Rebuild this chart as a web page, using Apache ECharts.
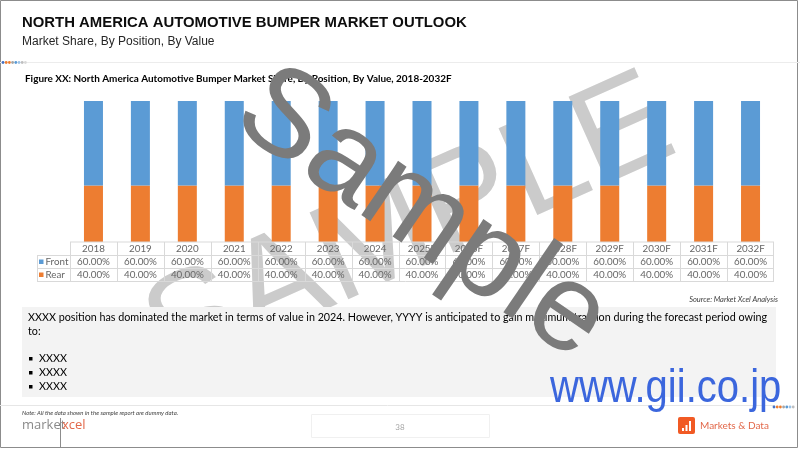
<!DOCTYPE html>
<html>
<head>
<meta charset="utf-8">
<script src="https://cdn.jsdelivr.net/npm/echarts@6/dist/echarts.min.js"></script>
<style>
  html, body { margin: 0; padding: 0; background: #fff; }
  #main { width: 800px; height: 450px; }
</style>
</head>
<body>
<div id="main"></div>
<script>
var years = ['2018', '2019', '2020', '2021', '2022', '2023', '2024', '2025E', '2026F', '2027F', '2028F', '2029F', '2030F', '2031F', '2032F'];
var front = [60, 60, 60, 60, 60, 60, 60, 60, 60, 60, 60, 60, 60, 60, 60];
var rear = [40, 40, 40, 40, 40, 40, 40, 40, 40, 40, 40, 40, 40, 40, 40];
var bullets = ['XXXX', 'XXXX', 'XXXX'];

var BLUE = '#5b9bd5';
var ORANGE = '#ed7d31';
var GRID_L = 70, GRID_R = 774, GRID_T = 101, GRID_B = 242;

var myChart = echarts.init(document.getElementById('main'));

option = {
    animation: false,
    grid: {
        left: GRID_L,
        right: 800 - GRID_R,
        top: GRID_T,
        bottom: 450 - GRID_B
    },
    xAxis: {
        type: 'category',
        data: years,
        show: false
    },
    yAxis: {
        type: 'value',
        min: 0,
        max: 100,
        show: false
    },
    series: [
        {
            name: 'Rear',
            type: 'bar',
            stack: 'total',
            barWidth: 19,
            itemStyle: { color: ORANGE },
            data: rear
        },
        {
            name: 'Front',
            type: 'bar',
            stack: 'total',
            barWidth: 19,
            itemStyle: { color: BLUE },
            data: front
        }
    ]
};
myChart.setOption(option);

// slide decorations + data table, placed from the category axis
var g = [];
function txt(x, y, s, st, extra) {
    var el = {
        type: 'text', x: x, y: y,
        style: Object.assign({ text: s, fill: '#000', font: '12px "Liberation Sans"', textVerticalAlign: 'middle' }, st)
    };
    return Object.assign(el, extra || {});
}
function line(x1, y1, x2, y2, color, z) {
    return { type: 'line', z: z || 3, shape: { x1: x1, y1: y1, x2: x2, y2: y2 }, style: { stroke: color, lineWidth: 1 } };
}

// light watermark behind bars
g.push(txt(410, 230, 'SAMPLE', { font: '138px "Liberation Sans"', fill: '#cbcbcb', textAlign: 'center' }, { rotation: 0.42, z: 0 }));

// frame
g.push({ type: 'rect', z: 1, shape: { x: 0.5, y: 0.5, width: 797, height: 447 }, style: { fill: 'none', stroke: '#8c8c8c', lineWidth: 1 } });

// header
g.push(txt(22, 23, 'NORTH AMERICA AUTOMOTIVE BUMPER MARKET OUTLOOK', { font: 'bold 14.9px "Liberation Sans"', fill: '#0d0d0d' }, { z: 3 }));
g.push(txt(22, 42, 'Market Share, By Position, By Value', { font: '12px "Liberation Sans"', fill: '#262626' }, { z: 3 }));
g.push(line(0, 62.5, 800, 62.5, '#ececec'));
var dotColors = ['#4472c4', '#ed7d31', '#ed7d31', '#a5a5a5', '#5b9bd5', '#9dc3e6', '#bfbfbf', '#d9d9d9'];
dotColors.forEach(function (c, i) {
    g.push({ type: 'circle', z: 3, shape: { cx: 3 + i * 3.2, cy: 62.5, r: 1.4 }, style: { fill: c } });
});
g.push(txt(25, 79, 'Figure XX: North America Automotive Bumper Market Share, By Position, By Value, 2018-2032F', { font: 'bold 9.95px Lato', fill: '#000' }, { z: 3 }));

// data table
var band = (GRID_R - GRID_L) / years.length;
var rowY = [242, 255.5, 268.5, 281.5];
var tcol = '#d9d9d9';
g.push(line(GRID_L, rowY[0], GRID_R, rowY[0], tcol));
g.push(line(37, rowY[1], GRID_R, rowY[1], tcol));
g.push(line(37, rowY[2], GRID_R, rowY[2], tcol));
g.push(line(37, rowY[3], GRID_R, rowY[3], tcol));
g.push(line(37.5, rowY[1], 37.5, rowY[3], tcol));
var tfont = '9.8px Lato';
years.forEach(function (y, i) {
    var cx = myChart.convertToPixel({ xAxisIndex: 0 }, y);
    var left = Math.round(cx - band / 2) + 0.5;
    g.push(line(left, rowY[0], left, rowY[3], tcol));
    g.push(txt(cx, (rowY[0] + rowY[1]) / 2, y, { font: tfont, fill: '#666', textAlign: 'center' }, { z: 3 }));
    g.push(txt(cx, (rowY[1] + rowY[2]) / 2, front[i].toFixed(2) + '%', { font: tfont, fill: '#666', textAlign: 'center' }, { z: 3 }));
    g.push(txt(cx, (rowY[2] + rowY[3]) / 2, rear[i].toFixed(2) + '%', { font: tfont, fill: '#666', textAlign: 'center' }, { z: 3 }));
});
g.push(line(GRID_R - 0.5, rowY[0], GRID_R - 0.5, rowY[3], tcol));
g.push({ type: 'rect', z: 3, shape: { x: 39, y: 259.5, width: 4.5, height: 4.5 }, style: { fill: BLUE } });
g.push({ type: 'rect', z: 3, shape: { x: 39, y: 272.5, width: 4.5, height: 4.5 }, style: { fill: ORANGE } });
g.push(txt(45.5, 262, 'Front', { font: tfont, fill: '#666' }, { z: 3 }));
g.push(txt(45.5, 275, 'Rear', { font: tfont, fill: '#666' }, { z: 3 }));

g.push(txt(778, 300, 'Source: Market Xcel Analysis', { font: 'italic 7.5px Lato', fill: '#404040', textAlign: 'right' }, { z: 3 }));

// commentary box
g.push({ type: 'rect', z: 4, shape: { x: 22, y: 307, width: 754, height: 90 }, style: { fill: '#f3f3f3' } });
var bfont = '10.75px Lato';
g.push(txt(28, 318, 'XXXX position has dominated the market in terms of value in 2024. However, YYYY is anticipated to gain maximum traction during the forecast period owing', { font: bfont, fill: '#000' }, { z: 5 }));
g.push(txt(28, 332, 'to:', { font: bfont, fill: '#000' }, { z: 5 }));
bullets.forEach(function (b, i) {
    var y = 359 + i * 14;
    g.push({ type: 'rect', z: 5, shape: { x: 29, y: y - 2, width: 3.5, height: 3.5 }, style: { fill: '#000' } });
    g.push(txt(39, y, b, { font: bfont, fill: '#000' }, { z: 5 }));
});

// footer
g.push(line(0, 405.5, 775, 405.5, '#e6e6e6'));
g.push(txt(22, 413, 'Note: All the data shown in the sample report are dummy data.', { font: 'italic 6px Lato', fill: '#404040' }, { z: 3 }));
g.push(txt(22, 425, 'market', { font: '13px "Open Sans"', fill: '#8a8a8a' }, { z: 3 }));
g.push(txt(62, 425, 'xcel', { font: '13px "Open Sans"', fill: '#e2684a' }, { z: 3 }));
g.push(line(60.5, 418, 60.5, 447, '#8c8c8c'));
g.push({ type: 'rect', z: 3, shape: { x: 311.5, y: 414.5, width: 178, height: 23 }, style: { fill: 'none', stroke: '#f0f0f0', lineWidth: 1 } });
g.push(txt(400, 427, '38', { font: '8px Lato', fill: '#a6a6a6', textAlign: 'center' }, { z: 3 }));
[0, 1, 2, 3, 4, 5, 6].forEach(function (i) {
    g.push({ type: 'circle', z: 3, shape: { cx: 774 + i * 3.2, cy: 407, r: 1.4 }, style: { fill: dotColors[i] } });
});
g.push({ type: 'rect', z: 3, shape: { x: 678, y: 417, width: 17, height: 17, r: 2 }, style: { fill: '#f15a24' } });
[[682, 428, 2, 3], [685.5, 425, 2, 6], [689, 421, 2, 10]].forEach(function (b) {
    g.push({ type: 'rect', z: 3, shape: { x: b[0], y: b[1], width: b[2], height: b[3] }, style: { fill: '#fff' } });
});
g.push(txt(700, 426, 'Markets & Data', { font: '10px Lato', fill: '#e2684a' }, { z: 3 }));

// dark watermark and site mark on top
g.push(txt(422, 215, 'Sample', { font: '124px "Liberation Sans"', fill: '#7b7b7b', textAlign: 'center' }, { rotation: -0.6, z: 20 }));
g.push(txt(550, 389, 'www.gii.co.jp', { font: '46px "Liberation Sans"', fill: '#3b66dd' }, { scaleX: 0.87, z: 20 }));

myChart.setOption({ graphic: { elements: g } });
</script>
</body>
</html>
